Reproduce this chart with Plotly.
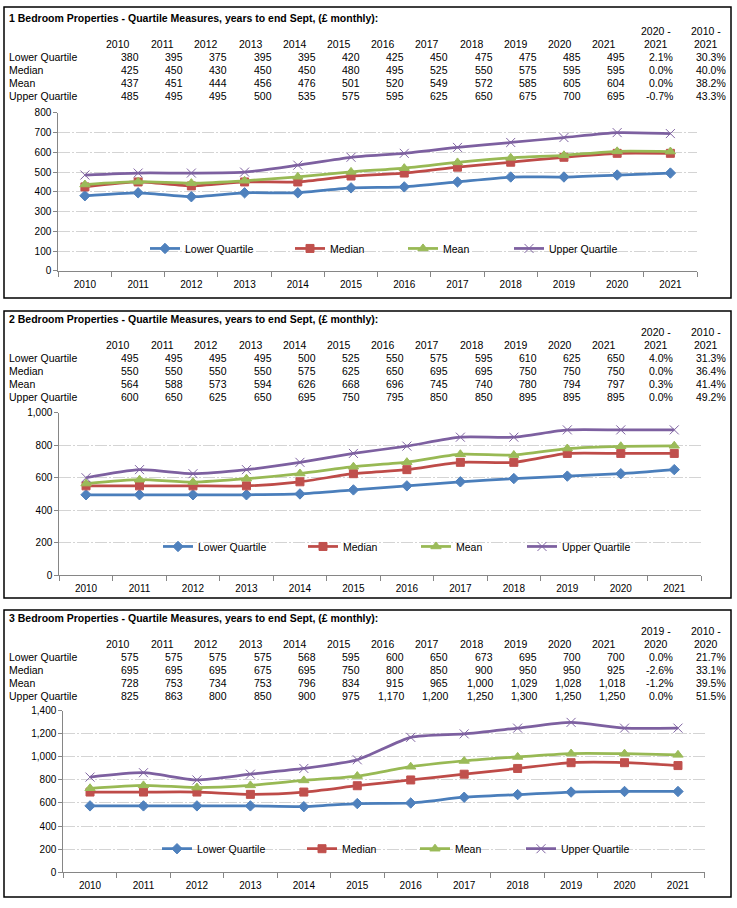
import plotly.graph_objects as go

W, H = 737, 908

years = [str(y) for y in range(2010, 2022)]
series_names = ["Lower Quartile", "Median", "Mean", "Upper Quartile"]

# 1 bedroom (£ monthly)
bed1_lower = [380, 395, 375, 395, 395, 420, 425, 450, 475, 475, 485, 495]
bed1_median = [425, 450, 430, 450, 450, 480, 495, 525, 550, 575, 595, 595]
bed1_mean = [437, 451, 444, 456, 476, 501, 520, 549, 572, 585, 605, 604]
bed1_upper = [485, 495, 495, 500, 535, 575, 595, 625, 650, 675, 700, 695]
bed1_change_short = [2.1, 0.0, 0.0, -0.7]
bed1_change_long = [30.3, 40.0, 38.2, 43.3]
bed1_change_heads = [("2020 -", "2021"), ("2010 -", "2021")]

# 2 bedroom
bed2_lower = [495, 495, 495, 495, 500, 525, 550, 575, 595, 610, 625, 650]
bed2_median = [550, 550, 550, 550, 575, 625, 650, 695, 695, 750, 750, 750]
bed2_mean = [564, 588, 573, 594, 626, 668, 696, 745, 740, 780, 794, 797]
bed2_upper = [600, 650, 625, 650, 695, 750, 795, 850, 850, 895, 895, 895]
bed2_change_short = [4.0, 0.0, 0.3, 0.0]
bed2_change_long = [31.3, 36.4, 41.4, 49.2]
bed2_change_heads = [("2020 -", "2021"), ("2010 -", "2021")]

# 3 bedroom
bed3_lower = [575, 575, 575, 575, 568, 595, 600, 650, 673, 695, 700, 700]
bed3_median = [695, 695, 695, 675, 695, 750, 800, 850, 900, 950, 950, 925]
bed3_mean = [728, 753, 734, 753, 796, 834, 915, 965, 1000, 1029, 1028, 1018]
bed3_upper = [825, 863, 800, 850, 900, 975, 1170, 1200, 1250, 1300, 1250, 1250]
bed3_change_short = [0.0, -2.6, -1.2, 0.0]
bed3_change_long = [21.7, 33.1, 39.5, 51.5]
bed3_change_heads = [("2019 -", "2020"), ("2010 -", "2020")]

line_colors = ["#4A7EBB", "#BE4B48", "#98B954", "#7D60A0"]
marker_colors = ["#4F81BD", "#C0504D", "#9BBB59", "#8064A2"]
symbols = ["diamond", "square", "triangle-up", "x-thin"]
marker_sizes = [8, 8, 9, 9]
legend_widths = [100, 68, 61, 80]

FONT = "Liberation Sans, Arial, sans-serif"


def px(x):
    return x / W


def py(y):
    return 1 - y / H


panels = [
    dict(title="1 Bedroom Properties - Quartile Measures, years to end Sept, (£ monthly):",
         series=[bed1_lower, bed1_median, bed1_mean, bed1_upper],
         short=bed1_change_short, long=bed1_change_long, heads=bed1_change_heads,
         off=0, box=(1, 296), plot=(58.3, 697, 108.3, 268.3), ymax=800, dtick=100,
         leg=(145, 245.7)),
    dict(title="2 Bedroom Properties - Quartile Measures, years to end Sept, (£ monthly):",
         series=[bed2_lower, bed2_median, bed2_mean, bed2_upper],
         short=bed2_change_short, long=bed2_change_long, heads=bed2_change_heads,
         off=305, box=(309, 600), plot=(59.3, 701, 412.3, 576.7), ymax=1000, dtick=200,
         leg=(158, 547.7)),
    dict(title="3 Bedroom Properties - Quartile Measures, years to end Sept, (£ monthly):",
         series=[bed3_lower, bed3_median, bed3_mean, bed3_upper],
         short=bed3_change_short, long=bed3_change_long, heads=bed3_change_heads,
         off=608, box=(612, 903), plot=(63.3, 704.7, 714.3, 877.7), ymax=1400, dtick=200,
         leg=(157, 854)),
]

fig = go.Figure()
annotations = []
shapes = []


def text(x, y, s, anchor="right", bold=False):
    annotations.append(dict(
        x=px(x), y=py(y), xref="paper", yref="paper", text=f"<b>{s}</b>" if bold else s,
        showarrow=False, xanchor=anchor, yanchor="middle",
        font=dict(family=FONT, size=10.5, color="black")))


for i, p in enumerate(panels):
    o = p["off"]
    sfx = "" if i == 0 else str(i + 1)
    legend_key = "legend" + sfx

    # border
    shapes.append(dict(type="rect", xref="paper", yref="paper",
                       x0=px(4), x1=px(731), y0=py(p["box"][0]), y1=py(p["box"][1]),
                       line=dict(color="black", width=1.5)))
    # legend area hides the gridline behind it
    shapes.append(dict(type="rect", xref="paper", yref="paper", layer="between",
                       x0=px(93), x1=px(656), y0=py(p["leg"][1] + 9), y1=py(p["leg"][1] - 9),
                       fillcolor="white", line=dict(width=0)))

    # table
    text(7, 12 + o, p["title"], anchor="left", bold=True)
    for j, yr in enumerate(years):
        text(132 + 44.2 * j, 38.5 + o, yr)
    for k, (h1, h2) in enumerate(p["heads"]):
        text(656 + 50 * k, 25 + o, h1, anchor="center")
        text(656 + 50 * k, 38.5 + o, h2, anchor="center")
    row_y = [51.5, 64.8, 78, 91.3]
    for r, name in enumerate(series_names):
        text(7, row_y[r] + o, name, anchor="left")
        for j, v in enumerate(p["series"][r]):
            text(141 + 44.2 * j, row_y[r] + o, f"{v:,}")
        text(675, row_y[r] + o, f"{p['short'][r]:.1f}%")
        text(728, row_y[r] + o, f"{p['long'][r]:.1f}%")

    # chart traces
    for r, name in enumerate(series_names):
        marker = dict(symbol=symbols[r], size=marker_sizes[r], color=marker_colors[r],
                      line=dict(width=1, color=marker_colors[r]))
        fig.add_trace(go.Scatter(
            x=years, y=p["series"][r], name=name, mode="lines+markers",
            line=dict(color=line_colors[r], width=2.75, shape="spline", smoothing=0.6),
            marker=marker, xaxis="x" + sfx, yaxis="y" + sfx,
            legend=legend_key, legendwidth=legend_widths[r]))

    x0, x1, ytop, ybot = p["plot"]
    fig.layout["xaxis" + sfx] = dict(
        domain=[px(x0), px(x1)], anchor="y" + sfx, type="category",
        range=[-0.5, 11.5], showgrid=False, showline=True, linecolor="#868686",
        ticks="outside", ticklen=5, tickcolor="#868686", tickson="boundaries",
        ticklabelstandoff=4,
        tickfont=dict(family=FONT, size=10, color="black"), fixedrange=True)
    fig.layout["yaxis" + sfx] = dict(
        domain=[py(ybot), py(ytop)], anchor="x" + sfx, range=[0, p["ymax"]],
        dtick=p["dtick"], tickformat=",", showgrid=True, gridcolor="#D4D4D4",
        griddash="12px,2px,2px,2px", gridwidth=1, zeroline=False,
        showline=True, linecolor="#868686", ticks="outside", ticklen=4,
        tickcolor="#868686", tickfont=dict(family=FONT, size=10, color="black"),
        fixedrange=True)
    fig.layout[legend_key] = dict(
        orientation="h", x=px(p["leg"][0]), y=py(p["leg"][1]),
        xanchor="left", yanchor="middle", bgcolor="rgba(0,0,0,0)",
        font=dict(family=FONT, size=10.5, color="black"), itemwidth=30,
        tracegroupgap=0)

fig.update_layout(
    width=W, height=H, margin=dict(l=0, r=0, t=0, b=0),
    paper_bgcolor="white", plot_bgcolor="white",
    annotations=annotations, shapes=shapes, showlegend=True,
)

fig.write_html("out.html", config={"displayModeBar": False},
               post_script="document.body.style.margin='0px';")
